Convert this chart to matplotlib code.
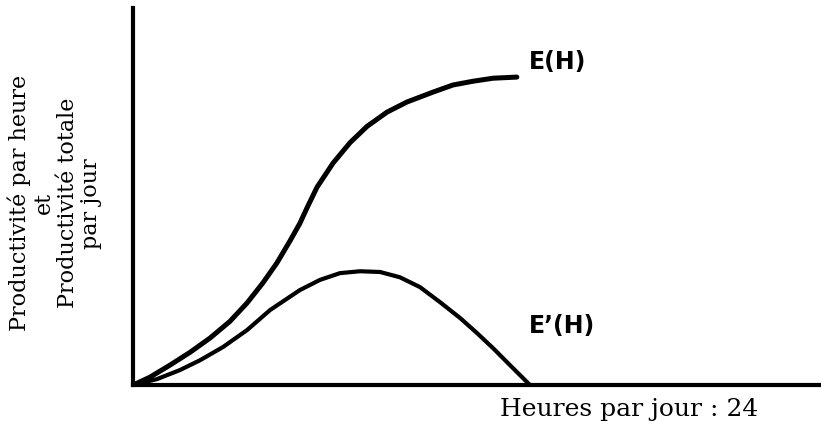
import matplotlib.pyplot as plt

# hours worked per day (x) and productivity
e_hours = [0, 0.59, 1.29, 1.99, 2.69, 3.38, 3.98, 4.53, 5.02, 5.48, 5.82, 6.07, 6.42,
           6.98, 7.57, 8.16, 8.86, 9.56, 10.46, 11.16, 11.86, 12.56, 13.39]
e_total = [0, 2.1, 5.3, 8.7, 12.5, 16.9, 21.8, 27.1, 32.4, 38.3, 42.9, 47.0, 52.5,
           58.9, 64.3, 68.6, 72.4, 75.1, 77.7, 79.6, 80.6, 81.4, 81.7]

ep_hours = [0, 0.84, 1.64, 2.34, 3.14, 3.98, 4.78, 5.82, 6.52, 7.22, 7.92, 8.62, 9.31,
            10.01, 10.71, 11.41, 12.0, 12.56, 13.15, 13.85]
ep_rate = [0, 1.6, 4.0, 6.6, 10.1, 14.6, 19.9, 25.2, 27.9, 29.7, 30.2, 30.0, 28.6,
           26.0, 22.0, 17.8, 13.8, 9.8, 5.3, 0]

fig = plt.figure(figsize=(8.21, 4.26), dpi=100)
ax = fig.add_axes([0.162, 0.096, 0.838, 0.885])

ax.plot(e_hours, e_total, color='black', lw=3.6, solid_capstyle='round', solid_joinstyle='round')
ax.plot(ep_hours, ep_rate, color='black', lw=3.0, solid_capstyle='round', solid_joinstyle='round')

ax.set_xlim(0, 24)
ax.set_ylim(0, 100)
for s in ['top', 'right']:
    ax.spines[s].set_visible(False)
for s in ['left', 'bottom']:
    ax.spines[s].set_linewidth(3)
ax.set_xticks([])
ax.set_yticks([])

ax.text(13.8, 85.7, 'E(H)', fontsize=17, fontweight='bold', va='center', ha='left')
ax.text(13.8, 15.6, 'E’(H)', fontsize=17, fontweight='bold', va='center', ha='left')
ax.text(17.3, -6.6, 'Heures par jour : 24', fontsize=18, family='DejaVu Serif',
        ha='center', va='center', clip_on=False)

fig.text(0.067, 0.523, 'Productivité par heure\net\nProductivité totale\npar jour',
         fontsize=16, family='DejaVu Serif', rotation=90, ha='center', va='center',
         multialignment='center', linespacing=1.1)

fig.savefig('out.png', dpi=100)
